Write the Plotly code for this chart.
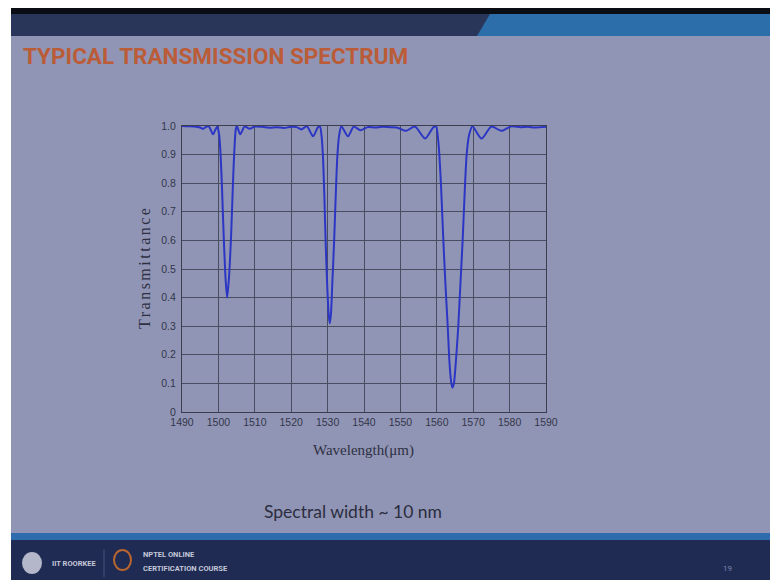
import plotly.graph_objects as go

# ---- data ----
wavelength_nm = [
    1490.0, 1492.0, 1494.0, 1495.0, 1495.8, 1496.6, 1497.4, 1498.5, 1499.2, 1499.7,
    1500.2, 1500.6, 1501.0, 1501.5, 1502.0, 1502.4, 1502.9, 1503.5, 1504.0, 1504.4, 1504.8,
    1505.1, 1506.0, 1507.2, 1508.6, 1510.0, 1512.0, 1514.0, 1516.0, 1518.0, 1520.0,
    1521.5, 1522.8, 1524.3, 1526.0, 1527.3, 1527.9,
    1528.3, 1528.7, 1529.1, 1529.5, 1529.9, 1530.3, 1530.6, 1530.9, 1531.3, 1531.8,
    1532.3, 1532.7, 1533.2, 1533.8,
    1535.6, 1537.2, 1539.0, 1541.0, 1543.0, 1545.0, 1547.0, 1549.0, 1551.5, 1554.0,
    1556.8, 1559.0, 1559.8,
    1560.3, 1560.7, 1561.2, 1561.8, 1562.4, 1563.0, 1563.5, 1564.0, 1564.3, 1564.7,
    1565.2, 1565.9, 1566.5, 1567.1, 1567.6, 1568.2, 1568.9, 1569.8,
    1572.3, 1575.0, 1577.8, 1580.5, 1583.0, 1585.0, 1587.0, 1590.0,
]
transmittance = [
    1.000, 0.999, 0.997, 0.995, 0.990, 0.997, 0.998, 0.971, 0.988, 0.998,
    0.970, 0.900, 0.780, 0.600, 0.460, 0.400, 0.470, 0.620, 0.800, 0.920, 0.990,
    0.999, 0.971, 0.998, 0.990, 0.998, 0.997, 0.994, 0.996, 0.993, 0.997,
    0.996, 0.988, 0.999, 0.964, 0.995, 0.998,
    0.970, 0.900, 0.760, 0.580, 0.440, 0.340, 0.310, 0.340, 0.450, 0.600,
    0.780, 0.900, 0.970, 0.999,
    0.964, 0.998, 0.985, 0.996, 0.995, 0.997, 0.996, 0.995, 0.983, 0.998,
    0.956, 0.995, 0.999,
    0.960, 0.900, 0.780, 0.600, 0.440, 0.300, 0.170, 0.100, 0.085, 0.100,
    0.170, 0.300, 0.450, 0.600, 0.750, 0.900, 0.970, 0.999,
    0.956, 0.998, 0.983, 0.999, 0.996, 0.997, 0.995, 0.997,
]
x_ticks = [1490, 1500, 1510, 1520, 1530, 1540, 1550, 1560, 1570, 1580, 1590]
y_ticks = [0, 0.1, 0.2, 0.3, 0.4, 0.5, 0.6, 0.7, 0.8, 0.9, 1.0]
y_tick_labels = ["0", "0.1", "0.2", "0.3", "0.4", "0.5", "0.6", "0.7", "0.8", "0.9", "1.0"]

# ---- layout geometry (window pixels) ----
W, H = 770, 580
L, R, T, B = 182, 546, 126, 412


def px(x):  # window pixel -> paper x
    return (x - L) / (R - L)


def py(y):  # window pixel -> paper y
    return (B - y) / (B - T)


SLIDE = "#9195b5"
fig = go.Figure()
fig.add_trace(go.Scatter(
    x=wavelength_nm, y=transmittance, mode="lines",
    line=dict(color="#2c36c4", width=2, shape="spline", smoothing=0.7),
    hoverinfo="x+y", showlegend=False,
))

shapes = []


def rect(x0, y0, x1, y1, color):
    shapes.append(dict(type="rect", xref="paper", yref="paper",
                       x0=px(x0), x1=px(x1), y0=py(y1), y1=py(y0),
                       fillcolor=color, line=dict(width=0), layer="below"))


rect(11, 8, 772, 582, SLIDE)
rect(11, 8, 772, 14, "#0b0d14")
rect(11, 14, 772, 36, "#2a355a")
shapes.append(dict(type="path", xref="paper", yref="paper", layer="below",
                   path=f"M {px(477)},{py(36)} L {px(490)},{py(14)} L {px(772)},{py(14)} L {px(772)},{py(36)} Z",
                   fillcolor="#2c6ea9", line=dict(width=0)))
rect(11, 533, 772, 540, "#2e6cae")
rect(11, 540, 772, 582, "#1f2b53")
shapes.append(dict(type="circle", xref="paper", yref="paper", layer="below",
                   x0=px(22), x1=px(42), y0=py(574), y1=py(552),
                   fillcolor="#b3b7c9", line=dict(width=0)))
shapes.append(dict(type="line", xref="paper", yref="paper", layer="below",
                   x0=px(104), x1=px(104), y0=py(577), y1=py(549),
                   line=dict(color="#45527c", width=1)))
shapes.append(dict(type="circle", xref="paper", yref="paper", layer="below",
                   x0=px(114), x1=px(131), y0=py(570), y1=py(550),
                   fillcolor="rgba(0,0,0,0)", line=dict(color="#b8652f", width=2)))

ann = []


def text(x, y, s, size, color, family, xanchor="center", textangle=0):
    ann.append(dict(x=px(x), y=py(y), xref="paper", yref="paper", text=s,
                    showarrow=False, xanchor=xanchor, yanchor="middle",
                    textangle=textangle,
                    font=dict(size=size, color=color, family=family)))


text(21, 56, "<b>TYPICAL TRANSMISSION SPECTRUM</b>", 22.5, "#bb5c38",
     "Roboto, Arial", xanchor="left")
text(363, 450, "Wavelength(μm)", 15, "#2e3042", "Liberation Serif, Times New Roman, serif")
text(144, 268, '<span style="letter-spacing:2.5px">Transmittance</span>', 16, "#2e3042",
     "Liberation Serif, Times New Roman, serif", textangle=-90)
text(353, 511, "Spectral width ~ 10 nm", 17.5, "#2b2d40", "Lato, Open Sans, sans-serif")
text(50, 563, "<b>IIT ROORKEE</b>", 7.5, "#c4c8d8", "Roboto, Arial", xanchor="left")
text(141, 554, "<b>NPTEL ONLINE</b>", 7.5, "#c4c8d8", "Roboto, Arial", xanchor="left")
text(141, 568, "<b>CERTIFICATION COURSE</b>", 7.5, "#c4c8d8", "Roboto, Arial", xanchor="left")
text(727, 568, "19", 8, "#7d86ad", "Roboto, Arial")

axis_common = dict(showgrid=True, gridcolor="#4a4c60", gridwidth=1,
                   showline=True, linecolor="#3c3e50", linewidth=1, mirror=True,
                   zeroline=False, ticks="",
                   tickfont=dict(family="Liberation Sans, Arial", size=10.5, color="#33354a"))

fig.update_layout(
    width=W, height=H,
    margin=dict(l=L, r=W - R, t=T, b=H - B, pad=0),
    paper_bgcolor="white", plot_bgcolor="rgba(0,0,0,0)",
    shapes=shapes, annotations=ann,
    xaxis=dict(range=[1490, 1590], tickvals=x_ticks, **axis_common),
    yaxis=dict(range=[0, 1.0], tickvals=y_ticks, ticktext=y_tick_labels,
               ticklabelstandoff=3, **axis_common),
    showlegend=False,
)

# remove the browser's default 8px page margin so the 770x580 figure fills the window
fig.write_html("out.html",
               config={"displayModeBar": False},
               post_script="document.body.style.margin='0';document.body.style.overflow='hidden';")
